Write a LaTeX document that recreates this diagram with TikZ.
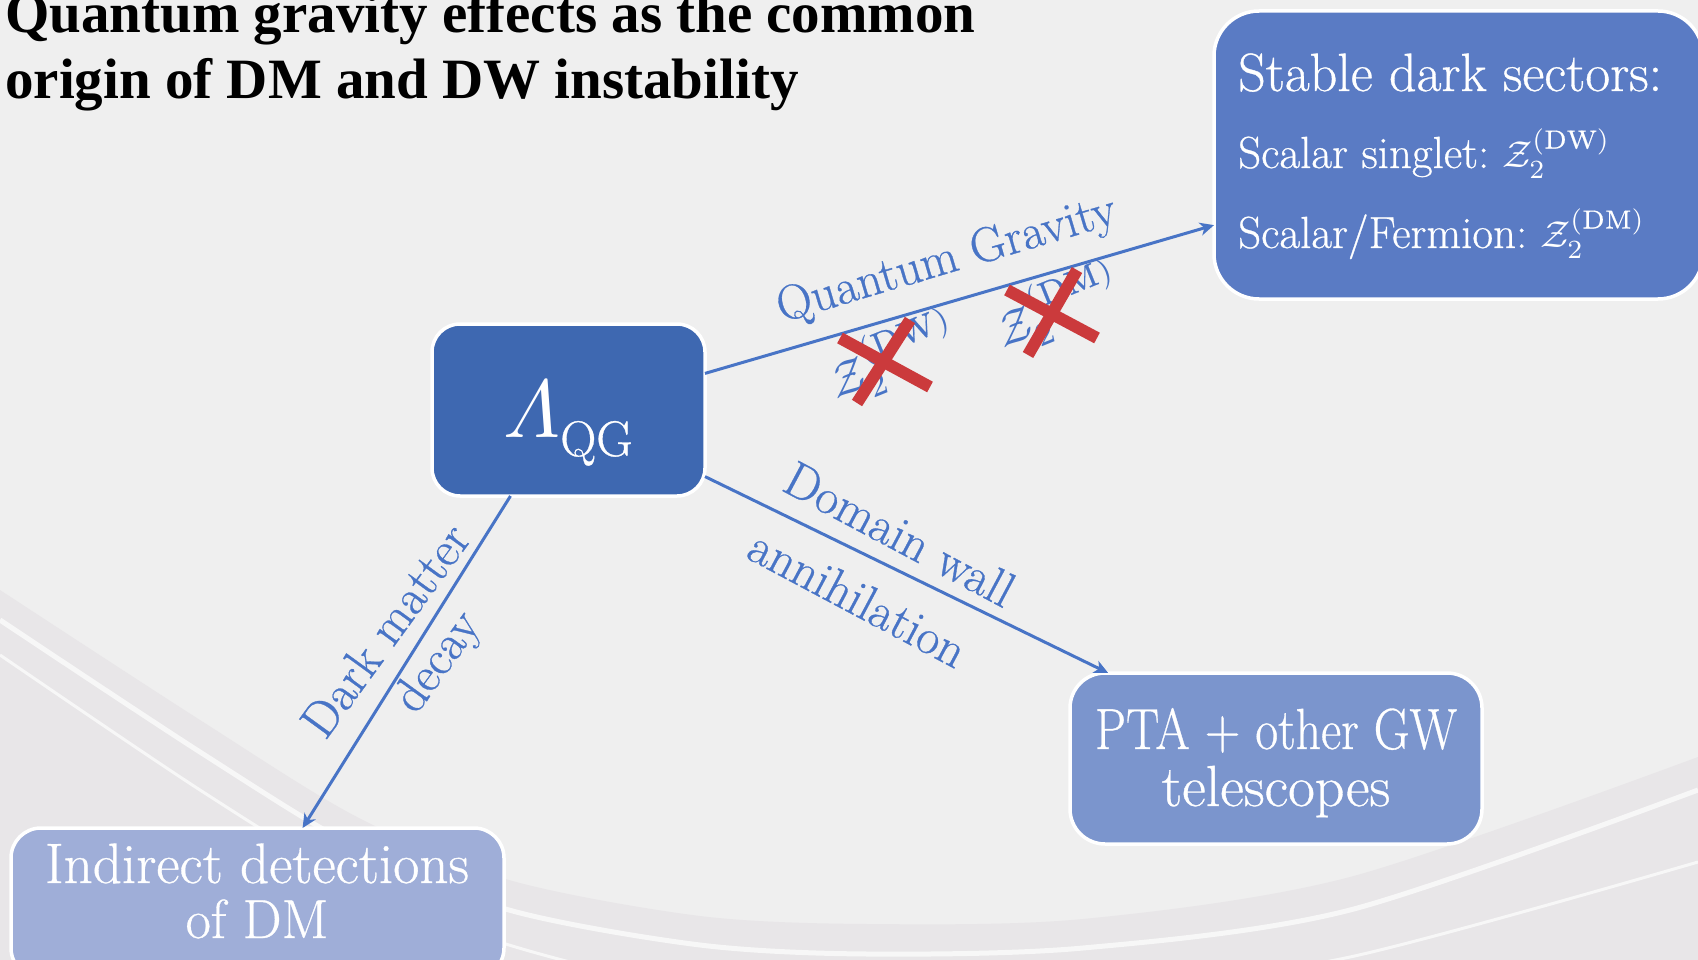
\documentclass[tikz,border=0pt]{standalone}
\usepackage{fontspec}
\usepackage{amsmath}
\usetikzlibrary{arrows.meta}
\setmainfont{Latin Modern Roman}[FakeBold=0.6]
\newfontfamily\titlefont{Liberation Serif}
\newcommand{\bigmath}[2]{\scalebox{#1}{\fontsize{10}{12}\selectfont$#2$}}
\definecolor{bgcol}{HTML}{EFEFEF}
\definecolor{bandcol}{HTML}{E8E6E8}
\definecolor{swoosh}{HTML}{F7F7F7}
\definecolor{boxA}{HTML}{3E68B1}
\definecolor{boxB}{HTML}{5A7BC4}
\definecolor{boxC}{HTML}{7B95CD}
\definecolor{boxD}{HTML}{9FAED8}
\definecolor{linkcol}{HTML}{4874C6}
\definecolor{crosscol}{HTML}{CB3A3C}
\begin{document}
\begin{tikzpicture}[x=1pt,y=-1pt,
  box/.style={draw=white,line width=3.5pt,inner sep=0pt,outer sep=0pt},
  link/.style={draw=linkcol,line width=3pt,-{Stealth[length=14pt,width=13pt,inset=4pt]}},
  lbl/.style={text=linkcol,inner sep=0pt},
  boxtxt/.style={text=white,inner sep=0pt},
  titletxt/.style={text=black,inner sep=0pt,anchor=base west},
  cross/.style={draw=crosscol,line width=12pt},
]
\useasboundingbox (0,0) rectangle (1698,960);
\clip (0,0) rectangle (1698,960);
% background
\fill[bgcol] (0,0) rectangle (1698,960);
\fill[bandcol] plot[smooth] coordinates {(0,590) (200,720) (357,817) (509,880) (700,916) (867,924) (1083,919) (1350,877) (1698,757)} -- (1698,1000) -- (0,1000) -- cycle;
\draw[swoosh,line width=5pt] plot[smooth] coordinates {(0,620) (200,752) (357,848) (509,910) (700,945) (867,954) (1083,948) (1350,910) (1698,790)};
\draw[swoosh,line width=3pt] plot[smooth] coordinates {(0,655) (200,790) (357,885) (509,945) (700,990) (900,1000) (1100,990) (1350,957) (1698,862)};

% title
\node[titletxt] (t1) at (5,33) {\titlefont\bfseries\fontsize{57}{68}\selectfont Quantum gravity effects as the common};
\node[titletxt] (t2) at (5,99) {\titlefont\bfseries\fontsize{57}{68}\selectfont origin of DM and DW instability};

% boxes
\node[box,fill=boxA,rounded corners=28pt,minimum width=273pt,minimum height=172pt] (L) at (568.5,410) {};
\node[box,fill=boxB,rounded corners=45pt,minimum width=489pt,minimum height=288pt] (S) at (1458.5,155) {};
\node[box,fill=boxC,rounded corners=35pt,minimum width=412pt,minimum height=171pt] (P) at (1276,758.5) {};
\node[box,fill=boxD,rounded corners=30pt,minimum width=493pt,minimum height=150pt] (I) at (257.5,903) {};

% box texts
\node[boxtxt,anchor=base] (Ltxt) at (568,437) {\bigmath{8.2}{\varLambda}\raisebox{-19pt}{\fontsize{50}{60}\selectfont QG}};
\node[boxtxt,anchor=base west] (s1) at (1238,91) {\fontsize{54}{64}\selectfont Stable dark sectors:};
\node[boxtxt,anchor=base west] (s2) at (1238,168) {\fontsize{45}{54}\selectfont Scalar singlet:\hspace{13pt}\bigmath{3.75}{\mathcal{Z}_2^{(\mathrm{DW})}}};
\node[boxtxt,anchor=base west] (s3) at (1238,248) {\fontsize{45}{54}\selectfont Scalar/Fermion:\hspace{13pt}\bigmath{3.75}{\mathcal{Z}_2^{(\mathrm{DM})}}};
\node[boxtxt,anchor=base] (p1) at (1276,749) {\fontsize{58}{66}\selectfont\scalebox{0.855}[1]{PTA + other GW}};
\node[boxtxt,anchor=base] (p2) at (1276,806) {\fontsize{58}{66}\selectfont telescopes};
\node[boxtxt,anchor=base] (i1) at (257,883) {\fontsize{57}{64}\selectfont Indirect detections};
\node[boxtxt,anchor=base] (i2) at (257,938) {\fontsize{55}{64}\selectfont of DM};

% connectors
\draw[link] (L.15.4) -- (S.196.2);
\draw[link] (L.-26) -- (P.153.8);
\draw[link] (L.236.6) -- (I.59.3);

% connector labels
\node[lbl,rotate=16.5] (qg) at (947,261) {\fontsize{49}{56}\selectfont Quantum Gravity};
\node[lbl,rotate=-28] (dw1) at (900,534) {\fontsize{50}{56}\selectfont Domain wall};
\node[lbl,rotate=-28] (dw2) at (858,598) {\fontsize{50}{56}\selectfont annihilation};
\node[lbl,rotate=54] (dm1) at (385,630) {\fontsize{50}{56}\selectfont Dark matter};
\node[lbl,rotate=54] (dm2) at (439,663) {\fontsize{50}{56}\selectfont decay};
\node[lbl,rotate=22] (z1) at (893,357) {\bigmath{4.7}{\mathcal{Z}_2^{(\mathrm{DW})}}};
\node[lbl,rotate=22] (z2) at (1058,307) {\bigmath{4.7}{\mathcal{Z}_2^{(\mathrm{DM})}}};

% red crosses
\draw[cross] (840,338) -- (930,387);
\draw[cross] (910,320) -- (857,403);
\draw[cross] (1007,290) -- (1097,338);
\draw[cross] (1077,270) -- (1028,355);
\end{tikzpicture}
\end{document}
